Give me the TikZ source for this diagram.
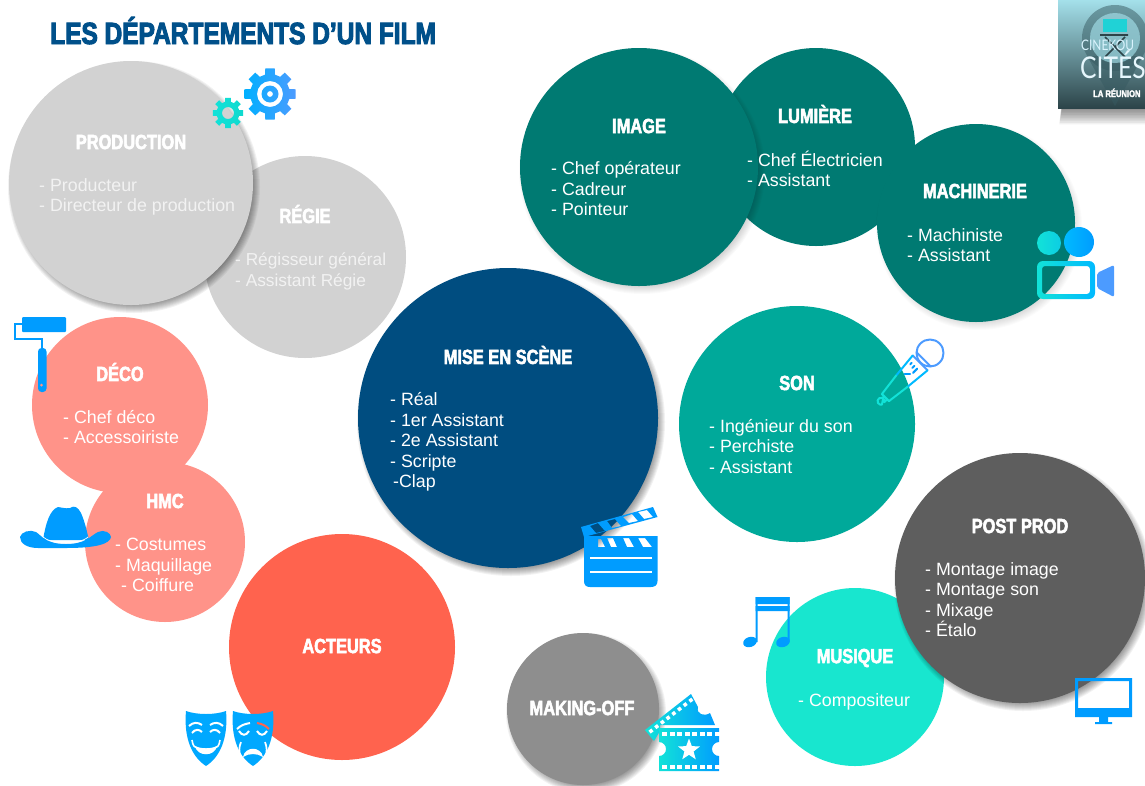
\documentclass[tikz,border=0pt]{standalone}
\usepackage{fontspec}
\setmainfont{Liberation Sans}
\newfontfamily\headfont[FakeStretch=0.80,FakeBold=2.6]{Liberation Sans Bold}
\newfontfamily\bigheadfont[FakeStretch=0.80,FakeBold=3.2]{Liberation Sans Bold}
\newfontfamily\logofont[FakeStretch=0.82]{Lato}
\usetikzlibrary{shapes.geometric}
\definecolor{tgrey}{HTML}{D2D2D2}
\definecolor{tpink}{HTML}{FF9389}
\definecolor{tred}{HTML}{FF634E}
\definecolor{tmid}{HTML}{8E8E8E}
\definecolor{tnavy}{HTML}{004D80}
\definecolor{tson}{HTML}{00A99A}
\definecolor{tteal}{HTML}{007A72}
\definecolor{tdark}{HTML}{5E5E5E}
\definecolor{tmus}{HTML}{18E6CF}
\definecolor{ttitle}{HTML}{00508A}
\definecolor{iblue}{HTML}{009CFF}
\definecolor{icyan}{HTML}{12E2D8}
\definecolor{iperi}{HTML}{4C9BFF}
\definecolor{logotop}{HTML}{A4E0EA}
\definecolor{logomid}{HTML}{4F8E99}
\definecolor{logobot}{HTML}{2C4449}
\tikzset{
  x=1pt,y=-1pt,
  disc/.style={circle,draw=none,inner sep=0pt,outer sep=0pt,minimum size=#1},
  head/.style={font=\headfont\fontsize{20.5}{24}\selectfont,text=white,inner sep=0pt},
  body/.style={font=\fontsize{17.8}{20.5}\selectfont,text=white,align=left,anchor=west,inner sep=0pt},
  micline/.style={line width=2pt,line join=round,line cap=round},
}
% soft shadow under a disc: centre x, centre y, radius, strength
\newcommand{\softshadow}[4]{%
  \foreach \i in {0,...,9}{%
    \pgfmathsetmacro{\rr}{#3-5+\i}
    \fill[black,opacity=#4] (#1+3,#2+4) circle[radius=\rr];
  }}
% eight-toothed gear: options, outer radius, root radius, holes
\newcommand{\gearshade}[4]{%
  \shade[#1,even odd rule] (-14:#3)
  \foreach \a in {0,45,...,315}{
    -- ({\a-14}:#3) -- ({\a-10.5}:#2) -- ({\a+10.5}:#2) -- ({\a+14}:#3)
  } -- cycle #4;
}
\begin{document}
\begin{tikzpicture}
\useasboundingbox (0,0) rectangle (1145,785);
\clip (0,0) rectangle (1145,785);
\fill[white] (0,0) rectangle (1145,785);

% discs
\node[disc=202pt,fill=tgrey] (regie) at (305,257) {};
\softshadow{131}{183}{122}{0.05}
\node[disc=244pt,fill=tgrey] (production) at (131,183) {};
\node[disc=160pt,fill=tpink] (hmc) at (165,542) {};
\node[disc=176pt,fill=tpink] (deco) at (120,405) {};
\node[disc=226pt,fill=tred] (acteurs) at (342,647) {};
\softshadow{583}{709}{76}{0.05}
\node[disc=152pt,fill=tmid] (making) at (583,709) {};
\softshadow{508}{418}{150}{0.05}
\node[disc=300pt,fill=tnavy] (mise) at (508,418) {};
\node[disc=236pt,fill=tson] (son) at (797,424) {};
\node[disc=198pt,fill=tteal] (lumiere) at (816,147) {};
\softshadow{639}{167}{119}{0.02}
\node[disc=238pt,fill=tteal] (image) at (639,167) {};
\softshadow{976}{223}{99}{0.015}
\node[disc=198pt,fill=tteal] (machinerie) at (976,223) {};
\node[disc=178pt,fill=tmus] (musique) at (855,677) {};
\softshadow{1020}{578}{125}{0.05}
\node[disc=250pt,fill=tdark] (postprod) at (1020,578) {};

% titles
\node[font=\bigheadfont\fontsize{30.6}{34}\selectfont,text=ttitle,anchor=base west,inner sep=0pt] (titre) at (50,44) {LES DÉPARTEMENTS D’UN FILM};
\node[head] (tprod) at (131,142) {PRODUCTION};
\node[head] (treg) at (305,214) {RÉGIE};
\node[head] (tdec) at (120,372) {DÉCO};
\node[head] (thmc) at (165,501) {HMC};
\node[head] (tact) at (342,646) {ACTEURS};
\node[head] (tmak) at (582,708) {MAKING-OFF};
\node[head] (tmis) at (508,355) {MISE EN SCÈNE};
\node[head] (tson) at (797,383) {SON};
\node[head] (timg) at (639,126) {IMAGE};
\node[head] (tlum) at (815,114) {LUMIÈRE};
\node[head] (tmac) at (975,191) {MACHINERIE};
\node[head] (tpos) at (1020,526) {POST PROD};
\node[head] (tmus) at (855,658) {MUSIQUE};

% lists
\node[body,text=white!95!black] (lprod) at (39,197) {- Producteur\\- Directeur de production};
\node[body,text=white!95!black,font=\fontsize{17.3}{20.5}\selectfont] (lreg) at (235,271.5) {- Régisseur général\\- Assistant Régie};
\node[body] (ldec) at (63,427) {- Chef déco\\- Accessoiriste};
\node[body] (lhmc) at (115,565) {- Costumes\\- Maquillage\\\hspace*{6pt}- Coiffure};
\node[body] (lmis) at (390,442) {- Réal\\- 1er Assistant\\- 2e Assistant\\- Scripte\\\hspace*{3pt}-Clap};
\node[body] (lson) at (709,446.5) {- Ingénieur du son\\- Perchiste\\- Assistant};
\node[body] (limg) at (551,189) {- Chef opérateur\\- Cadreur\\- Pointeur};
\node[body] (llum) at (747,169) {- Chef Électricien\\- Assistant};
\node[body] (lmac) at (907,245) {- Machiniste\\- Assistant};
\node[body] (lpos) at (925,599.5) {- Montage image\\- Montage son\\- Mixage\\- Étalo};
\node[body] (lmus) at (798,701.5) {- Compositeur};

% gears
\begin{scope}[shift={(270,94)}]
  \gearshade{left color=iblue!80!cyan,right color=iperi}{26}{20}{(0,0) circle[radius=13] (0,0) circle[radius=8.5] (0,0) circle[radius=3]}
\end{scope}
\begin{scope}[shift={(228,113)}]
  \gearshade{left color=icyan,right color=icyan!85!tson}{15.5}{11.5}{(0,0) circle[radius=6]}
\end{scope}

% paint roller
\draw[iblue,line width=2.8pt] (24,324) -- (15,324) -- (15,339) -- (42,339) -- (42,350);
\fill[iblue,rounded corners=1pt] (22,317) rectangle (66,332);
\fill[iblue,rounded corners=3.5pt] (38,348) rectangle (46.5,392);
\fill[tpink] (41.5,385) circle[radius=1.5];

% hat
\fill[iblue] (43,540) .. controls (46,522) and (50,510) .. (58,507) .. controls (62,507) and (64,509) .. (70,508) .. controls (74,505) and (78,507) .. (81,513) .. controls (85,522) and (87,532) .. (89,540) -- cycle;
\fill[iblue] (20,537) .. controls (21,532) and (30,529) .. (36,532) .. controls (42,536) and (46,544) .. (66,544) .. controls (86,544) and (90,536) .. (98,532) .. controls (104,529) and (111,533) .. (111,537) .. controls (110,544) and (96,548) .. (66,548) -- (38,548) .. controls (28,548) and (20,544) .. (20,537) -- cycle;
\draw[white,line width=0.7pt] (43,537) .. controls (50,544) and (80,545) .. (88,537);

% masks
\begin{scope}[shift={(185,711)}]
  \fill[iblue!88!cyan] (1,0) .. controls (12,4) and (30,4) .. (41,0) .. controls (43,22) and (38,44) .. (21,55) .. controls (4,44) and (-1,22) .. (1,0) -- cycle;
  \draw[white,line width=2pt] (4,15) .. controls (8,11) and (13,11) .. (17,14) (25,14) .. controls (29,11) and (34,11) .. (38,15);
  \draw[white,line width=2pt] (7,22) .. controls (10,18) and (14,18) .. (17,21) (25,21) .. controls (28,18) and (32,18) .. (35,22);
  \draw[white,line width=1.6pt] (7,29) .. controls (8,35) and (9,36) .. (13,37) (35,29) .. controls (34,35) and (33,36) .. (29,37);
  \fill[white] (10,35) .. controls (16,38) and (26,38) .. (32,35) .. controls (30,46) and (12,46) .. (10,35) -- cycle;
\end{scope}
\begin{scope}[shift={(232,711)}]
  \fill[iblue!88!cyan] (1,0) .. controls (12,4) and (30,4) .. (41,0) .. controls (43,22) and (38,44) .. (21,55) .. controls (4,44) and (-1,22) .. (1,0) -- cycle;
  \draw[white,line width=2pt] (5,18) .. controls (9,14) and (13,13) .. (18,12);
  \draw[tred,line width=2pt] (25,12) .. controls (30,13) and (33,14) .. (37,18);
  \draw[white,line width=2pt] (7,20) .. controls (10,25) and (14,25) .. (17,20) (25,20) .. controls (28,25) and (32,25) .. (35,20);
  \draw[white,line width=1.7pt] (9,31) .. controls (7,36) and (7,40) .. (8,44) (33,31) .. controls (35,36) and (35,40) .. (34,44);
  \fill[white] (11,46) .. controls (13,35) and (29,35) .. (31,46) .. controls (25,42) and (17,42) .. (11,46) -- cycle;
\end{scope}

% clapperboard
\fill[iblue,even odd rule] (581,527) -- (653,507) -- (657.5,517) -- (584,537) -- cycle
  (590,526) -- (598,523) -- (605,531) -- (596,533) -- cycle
  (607,521) -- (615,519) -- (621,526) -- (612,528) -- cycle
  (623,517) -- (632,514) -- (638,521) -- (629,523) -- cycle
  (638,512) -- (647,510) -- (653,517) -- (644,519) -- cycle;
\fill[iblue,even odd rule] (584,536) -- (657.5,536) -- (657.5,581) .. controls (657.5,585) and (655,587) .. (651,587) -- (590,587) .. controls (586,587) and (584,585) .. (584,581) -- cycle
  (598,539) -- (601,539) -- (605,547) -- (598,547) -- cycle
  (607,538) -- (613,538) -- (617,547) -- (611,547) -- cycle
  (623,538) -- (629,538) -- (634,547) -- (627,547) -- cycle
  (638,538) -- (645,538) -- (652,547) -- (643,547) -- cycle;
\draw[white,line width=1.4pt] (590,558) -- (652,558) (590,572) -- (652,572);

% ticket
\shade[left color=icyan,right color=iblue] (645,730) -- (691,694) -- (698,707) .. controls (696,714) and (704,717) .. (710,713) -- (715,725) -- (660,725) -- (660,731) -- (654,741) -- cycle;
\foreach \i in {0,...,7}{
  \pgfmathsetmacro{\qx}{651+\i*5.7}
  \pgfmathsetmacro{\qy}{731-\i*4.4}
  \fill[white,rotate around={37:(\qx,\qy)}] (\qx-1.8,\qy-1.8) rectangle (\qx+1.8,\qy+1.8);
}
\shade[left color=icyan,right color=iblue] (659,728) -- (719,728) -- (719,742) arc[start angle=270,end angle=90,radius=7] -- (719,771) -- (659,771) -- (659,756) arc[start angle=90,end angle=-90,radius=7] -- cycle;
\foreach \i in {0,...,7}{
  \pgfmathsetmacro{\qx}{662+\i*7.5}
  \fill[white] (\qx,731.5) rectangle (\qx+5,736);
  \fill[white] (\qx,765) rectangle (\qx+5,769);
}
\node[star,star points=5,star point ratio=2.4,fill=white,inner sep=0pt,minimum size=23pt] (etoile) at (689,750) {};

% camera
\shade[left color=icyan,right color=icyan!70!iblue] (1049,243) circle[radius=12];
\shade[left color=iblue!70!cyan,right color=iblue] (1079,242) circle[radius=15];
\shade[left color=icyan,right color=iblue!70!cyan,even odd rule] [rounded corners=6pt] (1037,261) rectangle (1095,299) [rounded corners=3pt] (1042,266) rectangle (1090,294);
\fill[iperi,rounded corners=2pt] (1097,273) -- (1114,265) -- (1114,297) -- (1097,288) -- cycle;

% microphone
\begin{scope}[shift={(930,353)},rotate=225]
  \draw[iperi,micline] (0,0) circle[radius=13.5];
  \draw[iperi,micline] (9,-10) -- (9,10) (14,-10.5) -- (14,10.5);
  \draw[iblue!70!cyan,micline] (14,-10.5) -- (40,-8) (14,10.5) -- (40,8);
  \draw[icyan,micline] (40,-8) -- (63,-5) -- (63,5) -- (40,8);
  \draw[icyan,micline] (63,-2.5) -- (67,-2.5) arc[start angle=-120,end angle=-420,radius=3.5] -- (63,2.5);
  \draw[iblue,micline] (20,-2) -- (26,-2) (20,2) -- (23,2) (20,6) -- (22,6);
  \draw[iblue,micline] (29,-1) -- (33,3);
\end{scope}

% music notes
\fill[iblue] (755.5,597) rectangle (757.5,642) (787.5,597) rectangle (789.5,642);
\fill[iblue] (755.5,597) rectangle (789.5,604) (755.5,606) rectangle (789.5,611);
\fill[iblue,rotate around={18:(750,642)}] (750,642) ellipse[x radius=7,y radius=5];
\fill[iblue,rotate around={18:(783,642)}] (783,642) ellipse[x radius=7,y radius=5];

% monitor
\fill[iblue,even odd rule] (1075,678) rectangle (1132,717) (1078,681) rectangle (1129,708);
\fill[iblue] (1099,717) rectangle (1108,722) (1095,722) rectangle (1112,724);

% logo
\foreach \i in {0,...,9}{
  \fill[black,opacity=0.05] (1062-\i*0.3,110+\i*1.6) -- (1145,110+\i*1.6) -- (1145,100) -- (1062,100) -- cycle;
}
\shade[top color=logotop,middle color=logomid,bottom color=logobot] (1058,0) rectangle (1145,108);
\fill[logobot!70!logomid,opacity=.5] (1115,38) circle[radius=33];
\fill[logobot!70!logomid,opacity=.5] (1087,56) -- (1115,106) -- (1143,56) -- cycle;
\fill[logotop,opacity=.65] (1115,38) circle[radius=25];
\fill[logomid!40!cyan] (1103,19) rectangle (1127,32);
\draw[logobot,line width=1.6pt] (1100,35) -- (1128,35) (1105,37) -- (1125,57) (1125,37) -- (1105,57);
\node[font=\logofont\fontsize{14.5}{15}\selectfont,text=white!85!cyan,anchor=base west,inner sep=0pt] (lg1) at (1081,50) {CINEKOU};
\node[font=\logofont\fontsize{30}{32}\selectfont,text=white!90!cyan,anchor=base west,inner sep=0pt] (lg2) at (1080,78) {CITÉS};
\node[font=\headfont\fontsize{9.5}{11}\selectfont,text=white,anchor=base west,inner sep=0pt] (lg3) at (1093,97) {LA RÉUNION};
\end{tikzpicture}
\end{document}
